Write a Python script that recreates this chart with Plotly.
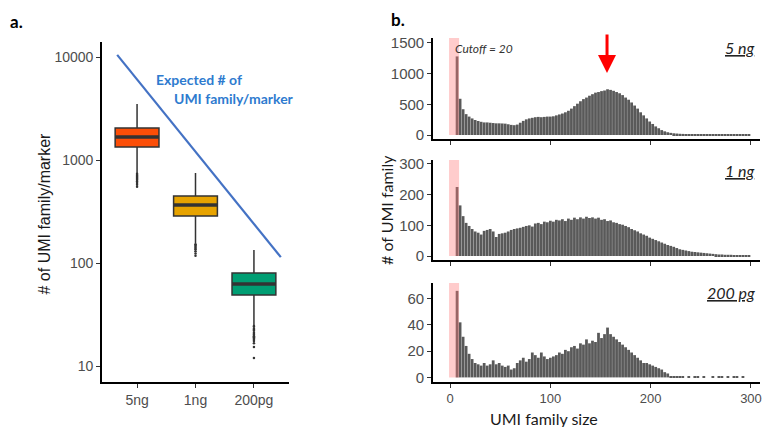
import plotly.graph_objects as go

# ---- panel a: UMI families per marker, by input amount ----
groups = ["5ng", "1ng", "200pg"]
box_colors = ["#FC4E07", "#E7A300", "#009E73"]
q1 = [1337, 286, 48.9]
medians = [1673, 366, 62.5]
q3 = [2050, 447, 80]
lower_fence = [748, 156, 25]
upper_fence = [3500, 748, 134]
outliers = [
    [735, 715, 700, 685, 670, 655, 640, 620, 600, 575, 550],
    [152, 148, 144, 140, 136, 130, 124, 118],
    [24.5, 24, 23, 22.5, 22, 21, 20.5, 20, 19.5, 19, 18.5, 18, 17.5, 16.6, 15.3, 12],
]
expected_x = [-0.34, 2.46]
expected_y = [10500, 114]

# ---- panel b: UMI family size histograms (bin width 3, first bin centred at 7) ----
BIN_START = 7
BIN_W = 3
hist_5ng = [
    1280, 590, 420, 340, 300, 270, 245, 228, 215, 205,
    205, 200, 195, 190, 190, 188, 185, 175, 165, 160,
    170, 200, 230, 255, 270, 280, 290, 295, 290, 295,
    300, 300, 305, 320, 335, 350, 370, 395, 430, 470,
    510, 550, 585, 610, 640, 665, 690, 700, 715, 725,
    745, 735, 720, 700, 680, 650, 610, 575, 530, 480,
    430, 370, 320, 270, 220, 180, 140, 110, 80, 60,
    45, 35, 28, 24, 20, 18, 15, 14, 13, 12,
    12, 11, 11, 10, 10, 10, 9, 9, 9, 9,
    8, 8, 8, 8, 8, 7, 7, 7,
]
hist_1ng = [
    225, 165, 130, 108, 98, 88, 80, 76, 70, 82,
    85, 88, 80, 62, 72, 74, 76, 80, 85, 88,
    90, 92, 95, 98, 100, 96, 106, 108, 104, 112,
    110, 115, 112, 118, 116, 120, 114, 122, 118, 125,
    120, 126, 122, 128, 124, 126, 122, 125, 118, 120,
    114, 116, 110, 108, 104, 102, 98, 94, 88, 84,
    80, 74, 70, 66, 60, 56, 52, 48, 44, 40,
    36, 33, 30, 26, 22, 20, 18, 16, 14, 13,
    12, 11, 10, 9, 8, 7, 6, 5, 5, 4,
    4, 4, 3, 3, 3, 3, 3, 2,
]
hist_200pg = [
    66, 42, 31, 24, 18, 14, 11, 10, 9, 11,
    9, 10, 13, 10, 11, 9, 8, 9, 6, 7,
    11, 13, 15, 12, 14, 19, 17, 15, 19, 16,
    14, 15, 16, 17, 19, 18, 21, 20, 23, 24,
    22, 26, 25, 29, 26, 28, 27, 34, 30, 33,
    38, 33, 31, 29, 27, 25, 23, 21, 19, 17,
    15, 13, 11, 11, 10, 9, 8, 7, 6, 4,
    3, 1, 1, 1, 1, 1, 0, 1, 0, 1,
    1, 0, 1, 0, 0, 1, 0, 1, 1, 0,
    1, 0, 1, 1, 0, 1, 0, 0,
]
hist_labels = ["5 ng", "1 ng", "200 pg"]
hist_ranges = [[-65, 1580], [-13, 313], [-3.5, 72]]
hist_ticks = [[0, 500, 1000, 1500], [0, 100, 200, 300], [0, 20, 40, 60]]
cutoff_span = [-1, 9]

W, H = 763, 427
TICK_FONT = dict(family="Liberation Sans, Arial", size=14, color="#4D4D4D")
LABEL_FONT = dict(family="Liberation Sans, Arial", size=16, color="#1A1A1A")
CAL = "Lato, Open Sans, sans-serif"

fig = go.Figure()

# boxes
BOX_W = 0.75
for i, g in enumerate(groups):
    fig.add_trace(go.Box(
        x=[i], q1=[q1[i]], median=[medians[i]], q3=[q3[i]],
        lowerfence=[lower_fence[i]], upperfence=[upper_fence[i]],
        orientation="v", width=BOX_W, whiskerwidth=0,
        fillcolor=box_colors[i], line=dict(color="#333333", width=1.5),
        boxpoints=False, showlegend=False, xaxis="x", yaxis="y",
    ))
    fig.add_trace(go.Scatter(
        x=[i] * len(outliers[i]), y=outliers[i], mode="markers",
        marker=dict(size=2.5, color="#333333"), showlegend=False,
        xaxis="x", yaxis="y",
    ))
    # thicker median bar, like ggplot
    fig.add_shape(type="line", xref="x", yref="y",
                  x0=i - BOX_W / 2, x1=i + BOX_W / 2, y0=medians[i], y1=medians[i],
                  line=dict(color="#333333", width=3.5))

fig.add_trace(go.Scatter(
    x=expected_x, y=expected_y, mode="lines",
    line=dict(color="#4472C4", width=2.2), showlegend=False,
    xaxis="x", yaxis="y",
))

# histograms
hists = [hist_5ng, hist_1ng, hist_200pg]
for k, vals in enumerate(hists):
    n = k + 2
    xs = [BIN_START + BIN_W * j for j in range(len(vals))]
    fig.add_trace(go.Bar(
        x=xs, y=vals, marker=dict(color="#595959", line=dict(width=0)),
        showlegend=False, xaxis=f"x{n}", yaxis=f"y{n}",
    ))
    fig.add_shape(type="rect", xref=f"x{n}", yref=f"y{n}",
                  x0=cutoff_span[0], x1=cutoff_span[1], y0=0, y1=hist_ranges[k][1],
                  fillcolor="rgba(255,120,120,0.38)", line=dict(width=0), layer="above")

axis_common = dict(showline=True, linecolor="black", linewidth=1.6, ticks="outside",
                   ticklen=4, tickwidth=1.2, tickcolor="#333333", showgrid=False,
                   zeroline=False, tickfont=TICK_FONT, automargin=False)

def px_x(p):
    return p / W

def px_y(p):
    return 1 - p / H

layout = dict(
    width=W, height=H, margin=dict(l=0, r=0, t=0, b=0, autoexpand=False),
    plot_bgcolor="white", paper_bgcolor="white", bargap=0.08,
    xaxis=dict(axis_common, domain=[px_x(102), px_x(289)], range=[-0.6, 2.6],
               tickvals=[0, 1, 2], ticktext=groups, anchor="y"),
    yaxis=dict(axis_common, domain=[px_y(382), px_y(42)], type="log",
               range=[0.845, 4.146], tickvals=[10, 100, 1000, 10000],
               ticktext=["10", "100", "1000", "10000"], anchor="x"),
)
hist_dom = [(38, 139), (160, 260), (283, 382)]
for k in range(3):
    n = k + 2
    top, bot = hist_dom[k]
    layout[f"xaxis{n}"] = dict(axis_common, domain=[px_x(433), px_x(760)], range=[-17, 309],
                               tickvals=[0, 100, 200, 300], showticklabels=(k == 2),
                               anchor=f"y{n}", tickfont=dict(TICK_FONT, size=13))
    layout[f"yaxis{n}"] = dict(axis_common, domain=[px_y(bot), px_y(top)],
                               range=hist_ranges[k], tickvals=hist_ticks[k],
                               anchor=f"x{n}", tickfont=dict(TICK_FONT, size=15))
fig.update_layout(**layout)

ann = [
    dict(text="<b>a.</b>", x=px_x(8), y=px_y(21), xanchor="left",
         font=dict(family=CAL, size=17, color="black")),
    dict(text="<b>b.</b>", x=px_x(389), y=px_y(19), xanchor="left",
         font=dict(family=CAL, size=17, color="black")),
    dict(text="# of UMI family/marker", x=px_x(33), y=px_y(214), textangle=-90,
         font=LABEL_FONT),
    dict(text="<b>Expected # of</b>", x=px_x(154), y=px_y(79), xanchor="left",
         font=dict(family=CAL, size=14, color="#2E7BCF")),
    dict(text="<b>UMI family/marker</b>", x=px_x(172), y=px_y(98), xanchor="left",
         font=dict(family=CAL, size=14, color="#2E7BCF")),
    dict(text="# of UMI family", x=px_x(386), y=px_y(210), textangle=-90,
         font=dict(family=CAL, size=16, color="#1A1A1A")),
    dict(text="UMI family size", x=px_x(600), y=px_y(418),
         font=dict(family=CAL, size=16, color="#1A1A1A")),
    dict(text="<i>Cutoff = 20</i>", x=px_x(453), y=px_y(48), xanchor="left",
         font=dict(family=CAL, size=12, color="#333333")),
]
label_y = [47, 170, 292]
for k, lab in enumerate(hist_labels):
    ann.append(dict(text=f"<i><u>{lab}</u></i>", x=px_x(757), y=px_y(label_y[k]),
                    xanchor="right", font=dict(family=CAL, size=16, color="#222222")))
for a in ann:
    a.setdefault("xref", "paper")
    a.setdefault("yref", "paper")
    a.setdefault("showarrow", False)
    a.setdefault("yanchor", "middle")
    fig.add_annotation(**a)

# red arrow pointing at the main peak
fig.add_annotation(x=156.5, y=1010, xref="x2", yref="y2", ax=0, ay=-40, text="",
                   showarrow=True, arrowhead=2, arrowsize=1.2, arrowwidth=3,
                   arrowcolor="red")

# the browser's default 8px body margin would push the figure off the window
fig.write_html("out.html", config={"displayModeBar": False},
               post_script="document.body.style.margin='0px';")
